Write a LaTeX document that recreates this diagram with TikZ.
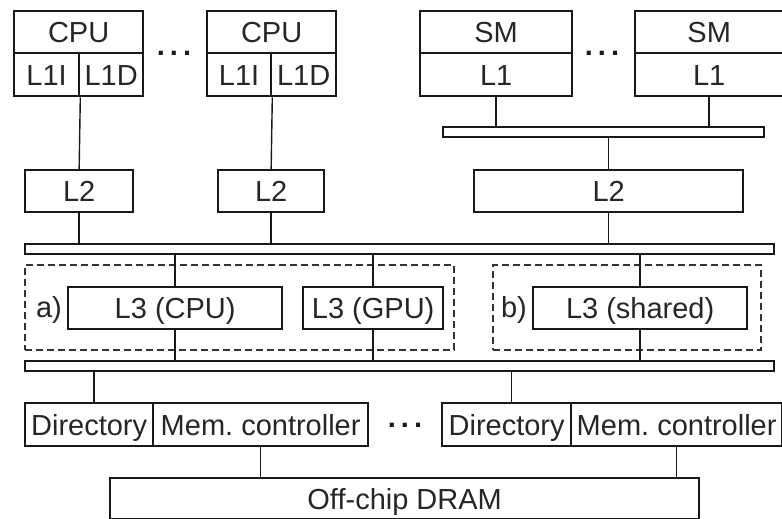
\documentclass[tikz,border=0pt]{standalone}
\usepackage{fontspec}
\setmainfont{Liberation Sans}
\begin{document}
\begin{tikzpicture}[x=1pt,y=-1pt,
  box/.style={draw=black!90, line width=2.3pt, inner sep=0pt, anchor=north west,
    font=\fontsize{29}{34}\selectfont, text=black!85,
    text height=21pt, text depth=0pt},
  bus/.style={draw=black!90, line width=2.3pt, inner sep=0pt, anchor=north west,
    minimum height=10pt},
  group/.style={draw=black!80, line width=1.8pt, dash pattern=on 7pt off 4pt,
    inner sep=0pt, anchor=north west},
  wire/.style={draw=black!90, line width=1.4pt},
  tag/.style={inner sep=0pt, font=\fontsize{29}{34}\selectfont, text=black!85,
    text height=21pt, text depth=0pt},
  dots/.style={inner sep=0pt, font=\fontsize{29}{34}\selectfont\bfseries, text=black!90}]
\useasboundingbox (0,0) rectangle (782,519);

% CPU cores with split L1 caches
\node[box, minimum width=129pt, minimum height=42pt] (cpuA) at (13,10) {CPU};
\node[box, minimum width=65pt, minimum height=43pt] (iA) at (13,52) {L1I};
\node[box, minimum width=64pt, minimum height=43pt] (dA) at (78,52) {L1D};
\node[box, minimum width=129pt, minimum height=42pt] (cpuB) at (206,10) {CPU};
\node[box, minimum width=64pt, minimum height=43pt] (iB) at (206,52) {L1I};
\node[box, minimum width=65pt, minimum height=43pt] (dB) at (270,52) {L1D};
\node[dots] (dotsA) at (174,53) {.\hspace{5pt}.\hspace{5pt}.};

% GPU streaming multiprocessors
\node[box, minimum width=152pt, minimum height=42pt] (smA) at (419,10) {SM};
\node[box, minimum width=152pt, minimum height=43pt] (lA) at (419,52) {L1};
\node[box, minimum width=148pt, minimum height=42pt] (smB) at (634,10) {SM};
\node[box, minimum width=148pt, minimum height=43pt] (lB) at (634,52) {L1};
\node[dots] (dotsB) at (602,53) {.\hspace{5pt}.\hspace{5pt}.};

% GPU local interconnect
\node[bus, minimum width=321pt] (sbus) at (442,126) {};

% L2 caches
\node[box, minimum width=108pt, minimum height=42pt] (ltwoA) at (24,169) {L2};
\node[box, minimum width=106pt, minimum height=42pt] (ltwoB) at (217,169) {L2};
\node[box, minimum width=269pt, minimum height=42pt] (ltwoC) at (473,169) {L2};

% main interconnects
\node[bus, minimum width=749pt] (busA) at (24,243) {};
\node[bus, minimum width=749pt] (busB) at (24,360) {};

% L3 options a) and b)
\node[group, minimum width=429pt, minimum height=85pt] (grpA) at (24,264) {};
\node[group, minimum width=268pt, minimum height=85pt] (grpB) at (492,264) {};
\node[box, minimum width=214pt, minimum height=42pt] (lthreeC) at (67,286) {L3 (CPU)};
\node[box, minimum width=140pt, minimum height=42pt] (lthreeG) at (302,286) {L3 (GPU)};
\node[box, minimum width=214pt, minimum height=42pt] (lthreeS) at (532,286) {L3 (shared)};
\node[tag] (tagA) at (49,307) {a)};
\node[tag] (tagB) at (514,307) {b)};

% memory side
\node[box, minimum width=128pt, minimum height=43pt] (dirA) at (24,402) {Directory};
\node[box, minimum width=215pt, minimum height=43pt] (mcA) at (152,402) {Mem.~controller};
\node[box, minimum width=129pt, minimum height=43pt] (dirB) at (441,402) {Directory};
\node[box, minimum width=211pt, minimum height=43pt] (mcB) at (570,402) {Mem.~controller};
\node[dots] (dotsC) at (405,425) {.\hspace{5pt}.\hspace{5pt}.};
\node[box, minimum width=589pt, minimum height=41pt] (dram) at (109,477) {Off-chip DRAM};

% connectors
\draw[wire] (iA.south east) -- (ltwoA.north);
\draw[wire] (ltwoA.south) -- (ltwoA.south |- busA.north);
\draw[wire] (iB.south east) -- (ltwoB.north);
\draw[wire] (ltwoB.south) -- (ltwoB.south |- busA.north);
\draw[wire] (lA.south) -- (lA.south |- sbus.north);
\draw[wire] (lB.south) -- (lB.south |- sbus.north);
\draw[wire] (ltwoC.north |- sbus.south) -- (ltwoC.north);
\draw[wire] (ltwoC.south) -- (ltwoC.south |- busA.north);
\draw[wire] (lthreeC.north |- busA.south) -- (lthreeC.north);
\draw[wire] (lthreeC.south) -- (lthreeC.south |- busB.north);
\draw[wire] (lthreeG.north |- busA.south) -- (lthreeG.north);
\draw[wire] (lthreeG.south) -- (lthreeG.south |- busB.north);
\draw[wire] (lthreeS.north |- busA.south) -- (lthreeS.north);
\draw[wire] (lthreeS.south) -- (lthreeS.south |- busB.north);
\draw[wire] ([xshift=5pt]dirA.north |- busB.south) -- ([xshift=5pt]dirA.north);
\draw[wire] ([xshift=5pt]dirB.north |- busB.south) -- ([xshift=5pt]dirB.north);
\draw[wire] (mcA.south) -- (mcA.south |- dram.north);
\draw[wire] (mcB.south) -- (mcB.south |- dram.north);
\end{tikzpicture}
\end{document}
